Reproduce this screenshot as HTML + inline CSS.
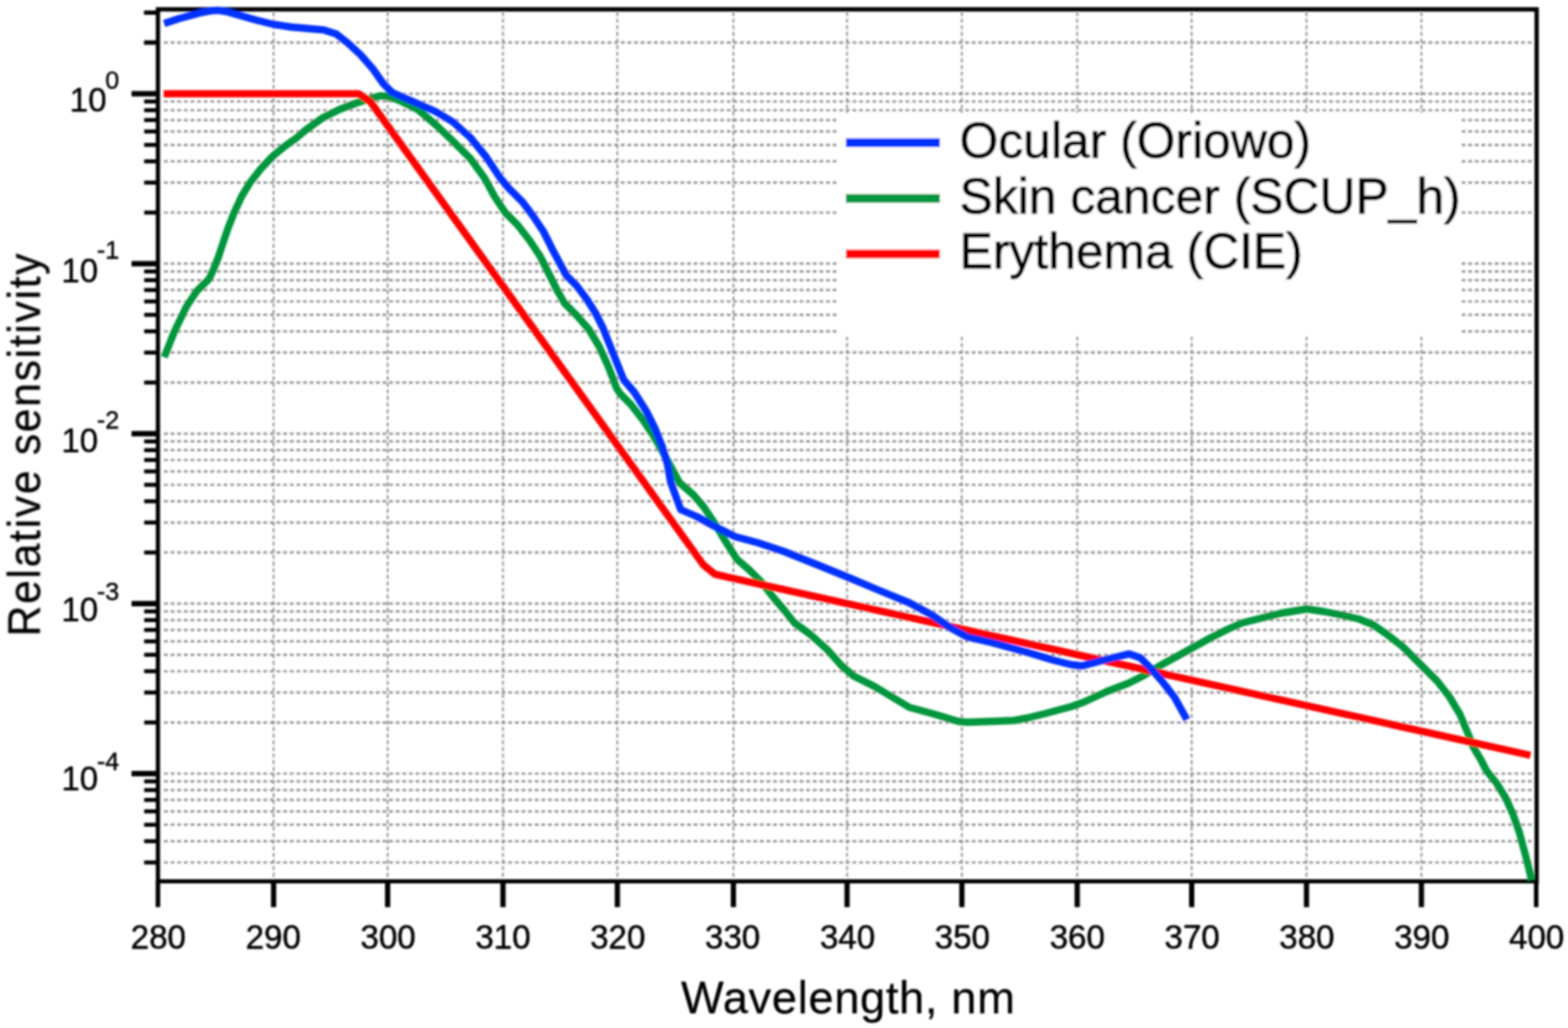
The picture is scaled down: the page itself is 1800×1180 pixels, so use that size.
<!DOCTYPE html>
<html lang="en"><head><meta charset="utf-8"><title>UV action spectra</title>
<style>
html,body{margin:0;padding:0;background:#fff;}
body{width:1800px;height:1180px;overflow:hidden;}
svg{display:block;font-family:"Liberation Sans",Arial,Helvetica,sans-serif;fill:#000;}
text{stroke:#000;stroke-width:0;}
.lab{letter-spacing:0.72px;stroke-width:0.3px;}
.leg{stroke-width:0.9px;}
.g{stroke:#929292;stroke-width:2.7;stroke-dasharray:4.3 3.3;fill:none;}
.gv{stroke:#888888;stroke-width:1.9;stroke-dasharray:4.6 3;fill:none;}
.ax{stroke:#000;fill:none;}
.c{fill:none;stroke-width:8.4;stroke-linejoin:round;stroke-linecap:butt;}
.tl{font-size:38px;stroke-width:0.55px;}
.yl{stroke-width:0.4px;}
.sup{font-size:29px;}
.lab{font-size:52px;}
.ylab{font-size:52px;letter-spacing:2.05px;stroke-width:0.35px;}
.leg{font-size:57.2px;}
</style></head><body>
<svg width="1800" height="1180" viewBox="0 0 1800 1180">
<defs><filter id="b" x="-2%" y="-2%" width="104%" height="104%"><feGaussianBlur stdDeviation="1.05"/></filter></defs>
<rect width="1800" height="1180" fill="#fff"/>
<g filter="url(#b)">
<g class="g">
<line x1="188.3" y1="107.6" x2="1761.0" y2="107.6"/>
<line x1="188.3" y1="48.9" x2="1761.0" y2="48.9"/>
<line x1="188.3" y1="302.7" x2="1761.0" y2="302.7"/>
<line x1="188.3" y1="244.0" x2="1761.0" y2="244.0"/>
<line x1="188.3" y1="209.6" x2="1761.0" y2="209.6"/>
<line x1="188.3" y1="185.2" x2="1761.0" y2="185.2"/>
<line x1="188.3" y1="166.3" x2="1761.0" y2="166.3"/>
<line x1="188.3" y1="150.9" x2="1761.0" y2="150.9"/>
<line x1="188.3" y1="137.8" x2="1761.0" y2="137.8"/>
<line x1="188.3" y1="126.5" x2="1761.0" y2="126.5"/>
<line x1="188.3" y1="116.5" x2="1761.0" y2="116.5"/>
<line x1="188.3" y1="497.8" x2="1761.0" y2="497.8"/>
<line x1="188.3" y1="439.1" x2="1761.0" y2="439.1"/>
<line x1="188.3" y1="404.7" x2="1761.0" y2="404.7"/>
<line x1="188.3" y1="380.3" x2="1761.0" y2="380.3"/>
<line x1="188.3" y1="361.4" x2="1761.0" y2="361.4"/>
<line x1="188.3" y1="346.0" x2="1761.0" y2="346.0"/>
<line x1="188.3" y1="332.9" x2="1761.0" y2="332.9"/>
<line x1="188.3" y1="321.6" x2="1761.0" y2="321.6"/>
<line x1="188.3" y1="311.6" x2="1761.0" y2="311.6"/>
<line x1="188.3" y1="692.9" x2="1761.0" y2="692.9"/>
<line x1="188.3" y1="634.2" x2="1761.0" y2="634.2"/>
<line x1="188.3" y1="599.8" x2="1761.0" y2="599.8"/>
<line x1="188.3" y1="575.4" x2="1761.0" y2="575.4"/>
<line x1="188.3" y1="556.5" x2="1761.0" y2="556.5"/>
<line x1="188.3" y1="541.1" x2="1761.0" y2="541.1"/>
<line x1="188.3" y1="528.0" x2="1761.0" y2="528.0"/>
<line x1="188.3" y1="516.7" x2="1761.0" y2="516.7"/>
<line x1="188.3" y1="506.7" x2="1761.0" y2="506.7"/>
<line x1="188.3" y1="888.0" x2="1761.0" y2="888.0"/>
<line x1="188.3" y1="829.3" x2="1761.0" y2="829.3"/>
<line x1="188.3" y1="794.9" x2="1761.0" y2="794.9"/>
<line x1="188.3" y1="770.5" x2="1761.0" y2="770.5"/>
<line x1="188.3" y1="751.6" x2="1761.0" y2="751.6"/>
<line x1="188.3" y1="736.2" x2="1761.0" y2="736.2"/>
<line x1="188.3" y1="723.1" x2="1761.0" y2="723.1"/>
<line x1="188.3" y1="711.8" x2="1761.0" y2="711.8"/>
<line x1="188.3" y1="701.8" x2="1761.0" y2="701.8"/>
<line x1="188.3" y1="990.0" x2="1761.0" y2="990.0"/>
<line x1="188.3" y1="965.6" x2="1761.0" y2="965.6"/>
<line x1="188.3" y1="946.7" x2="1761.0" y2="946.7"/>
<line x1="188.3" y1="931.3" x2="1761.0" y2="931.3"/>
<line x1="188.3" y1="918.2" x2="1761.0" y2="918.2"/>
<line x1="188.3" y1="906.9" x2="1761.0" y2="906.9"/>
<line x1="188.3" y1="896.9" x2="1761.0" y2="896.9"/>
</g>
<g class="gv">
<line x1="314.1" y1="13.8" x2="314.1" y2="1009.6"/>
<line x1="445.0" y1="13.8" x2="445.0" y2="1009.6"/>
<line x1="577.4" y1="13.8" x2="577.4" y2="1009.6"/>
<line x1="708.7" y1="13.8" x2="708.7" y2="1009.6"/>
<line x1="841.9" y1="13.8" x2="841.9" y2="1009.6"/>
<line x1="972.4" y1="13.8" x2="972.4" y2="1009.6"/>
<line x1="1104.2" y1="13.8" x2="1104.2" y2="1009.6"/>
<line x1="1236.6" y1="13.8" x2="1236.6" y2="1009.6"/>
<line x1="1368.0" y1="13.8" x2="1368.0" y2="1009.6"/>
<line x1="1499.8" y1="13.8" x2="1499.8" y2="1009.6"/>
<line x1="1631.7" y1="13.8" x2="1631.7" y2="1009.6"/>
</g>
<rect x="962" y="130" width="715" height="256" fill="#fff"/>
<g class="ax">
<path stroke-width="4.9" d="M181.3 10.8 H1764.0 V1011.6 H181.3 Z"/>
<line stroke-width="5.2" x1="181.3" y1="1011.6" x2="181.3" y2="1041.3"/>
<line stroke-width="6.0" x1="314.1" y1="1011.6" x2="314.1" y2="1041.3"/>
<line stroke-width="6.0" x1="445.0" y1="1011.6" x2="445.0" y2="1041.3"/>
<line stroke-width="6.0" x1="577.4" y1="1011.6" x2="577.4" y2="1041.3"/>
<line stroke-width="6.0" x1="708.7" y1="1011.6" x2="708.7" y2="1041.3"/>
<line stroke-width="6.0" x1="841.9" y1="1011.6" x2="841.9" y2="1041.3"/>
<line stroke-width="6.0" x1="972.4" y1="1011.6" x2="972.4" y2="1041.3"/>
<line stroke-width="6.0" x1="1104.2" y1="1011.6" x2="1104.2" y2="1041.3"/>
<line stroke-width="6.0" x1="1236.6" y1="1011.6" x2="1236.6" y2="1041.3"/>
<line stroke-width="6.0" x1="1368.0" y1="1011.6" x2="1368.0" y2="1041.3"/>
<line stroke-width="6.0" x1="1499.8" y1="1011.6" x2="1499.8" y2="1041.3"/>
<line stroke-width="6.0" x1="1631.7" y1="1011.6" x2="1631.7" y2="1041.3"/>
<line stroke-width="5.2" x1="1763.5" y1="1011.6" x2="1763.5" y2="1041.3"/>
<line stroke-width="6.2" x1="151" y1="107.6" x2="181.3" y2="107.6"/>
<line stroke-width="4.6" x1="165.5" y1="48.9" x2="181.3" y2="48.9"/>
<line stroke-width="4.6" x1="165.5" y1="14.5" x2="181.3" y2="14.5"/>
<line stroke-width="4.6" x1="165.5" y1="-9.9" x2="181.3" y2="-9.9"/>
<line stroke-width="4.6" x1="165.5" y1="-28.8" x2="181.3" y2="-28.8"/>
<line stroke-width="4.6" x1="165.5" y1="-44.2" x2="181.3" y2="-44.2"/>
<line stroke-width="4.6" x1="165.5" y1="-57.3" x2="181.3" y2="-57.3"/>
<line stroke-width="4.6" x1="165.5" y1="-68.6" x2="181.3" y2="-68.6"/>
<line stroke-width="4.6" x1="165.5" y1="-78.6" x2="181.3" y2="-78.6"/>
<line stroke-width="6.2" x1="151" y1="302.7" x2="181.3" y2="302.7"/>
<line stroke-width="4.6" x1="165.5" y1="244.0" x2="181.3" y2="244.0"/>
<line stroke-width="4.6" x1="165.5" y1="209.6" x2="181.3" y2="209.6"/>
<line stroke-width="4.6" x1="165.5" y1="185.2" x2="181.3" y2="185.2"/>
<line stroke-width="4.6" x1="165.5" y1="166.3" x2="181.3" y2="166.3"/>
<line stroke-width="4.6" x1="165.5" y1="150.9" x2="181.3" y2="150.9"/>
<line stroke-width="4.6" x1="165.5" y1="137.8" x2="181.3" y2="137.8"/>
<line stroke-width="4.6" x1="165.5" y1="126.5" x2="181.3" y2="126.5"/>
<line stroke-width="4.6" x1="165.5" y1="116.5" x2="181.3" y2="116.5"/>
<line stroke-width="6.2" x1="151" y1="497.8" x2="181.3" y2="497.8"/>
<line stroke-width="4.6" x1="165.5" y1="439.1" x2="181.3" y2="439.1"/>
<line stroke-width="4.6" x1="165.5" y1="404.7" x2="181.3" y2="404.7"/>
<line stroke-width="4.6" x1="165.5" y1="380.3" x2="181.3" y2="380.3"/>
<line stroke-width="4.6" x1="165.5" y1="361.4" x2="181.3" y2="361.4"/>
<line stroke-width="4.6" x1="165.5" y1="346.0" x2="181.3" y2="346.0"/>
<line stroke-width="4.6" x1="165.5" y1="332.9" x2="181.3" y2="332.9"/>
<line stroke-width="4.6" x1="165.5" y1="321.6" x2="181.3" y2="321.6"/>
<line stroke-width="4.6" x1="165.5" y1="311.6" x2="181.3" y2="311.6"/>
<line stroke-width="6.2" x1="151" y1="692.9" x2="181.3" y2="692.9"/>
<line stroke-width="4.6" x1="165.5" y1="634.2" x2="181.3" y2="634.2"/>
<line stroke-width="4.6" x1="165.5" y1="599.8" x2="181.3" y2="599.8"/>
<line stroke-width="4.6" x1="165.5" y1="575.4" x2="181.3" y2="575.4"/>
<line stroke-width="4.6" x1="165.5" y1="556.5" x2="181.3" y2="556.5"/>
<line stroke-width="4.6" x1="165.5" y1="541.1" x2="181.3" y2="541.1"/>
<line stroke-width="4.6" x1="165.5" y1="528.0" x2="181.3" y2="528.0"/>
<line stroke-width="4.6" x1="165.5" y1="516.7" x2="181.3" y2="516.7"/>
<line stroke-width="4.6" x1="165.5" y1="506.7" x2="181.3" y2="506.7"/>
<line stroke-width="6.2" x1="151" y1="888.0" x2="181.3" y2="888.0"/>
<line stroke-width="4.6" x1="165.5" y1="829.3" x2="181.3" y2="829.3"/>
<line stroke-width="4.6" x1="165.5" y1="794.9" x2="181.3" y2="794.9"/>
<line stroke-width="4.6" x1="165.5" y1="770.5" x2="181.3" y2="770.5"/>
<line stroke-width="4.6" x1="165.5" y1="751.6" x2="181.3" y2="751.6"/>
<line stroke-width="4.6" x1="165.5" y1="736.2" x2="181.3" y2="736.2"/>
<line stroke-width="4.6" x1="165.5" y1="723.1" x2="181.3" y2="723.1"/>
<line stroke-width="4.6" x1="165.5" y1="711.8" x2="181.3" y2="711.8"/>
<line stroke-width="4.6" x1="165.5" y1="701.8" x2="181.3" y2="701.8"/>
<line stroke-width="4.6" x1="165.5" y1="990.0" x2="181.3" y2="990.0"/>
<line stroke-width="4.6" x1="165.5" y1="965.6" x2="181.3" y2="965.6"/>
<line stroke-width="4.6" x1="165.5" y1="946.7" x2="181.3" y2="946.7"/>
<line stroke-width="4.6" x1="165.5" y1="931.3" x2="181.3" y2="931.3"/>
<line stroke-width="4.6" x1="165.5" y1="918.2" x2="181.3" y2="918.2"/>
<line stroke-width="4.6" x1="165.5" y1="906.9" x2="181.3" y2="906.9"/>
<line stroke-width="4.6" x1="165.5" y1="896.9" x2="181.3" y2="896.9"/>
<line stroke-width="4.6" x1="165.5" y1="48.9" x2="181.3" y2="48.9"/>
<line stroke-width="4.6" x1="165.5" y1="14.5" x2="181.3" y2="14.5"/>
</g>
<clipPath id="cp"><rect x="181.3" y="4.8" width="1582.7" height="1008.0"/></clipPath>
<g clip-path="url(#cp)">
<path class="c" stroke="#00963c" d="M188.5 410.0 L200.0 381.0 L214.0 352.0 L226.0 334.0 L240.0 320.3 L245.1 309.2 L250.5 295.6 L255.9 279.3 L261.4 263.0 L268.8 244.0 L277.6 225.0 L287.1 209.5 L299.3 193.9 L312.9 179.5 L326.4 168.3 L340.0 158.6 L350.0 150.0 L370.0 135.5 L390.0 125.5 L410.0 118.0 L426.0 113.0 L436.0 110.0 L446.0 110.6 L460.0 116.0 L480.0 126.0 L500.0 143.0 L520.0 162.0 L540.0 182.0 L556.0 204.0 L568.0 226.0 L580.0 244.0 L594.0 258.0 L608.0 276.0 L620.0 294.0 L630.0 314.0 L640.0 334.0 L648.0 348.0 L662.0 362.0 L676.0 378.0 L688.0 398.0 L698.0 420.0 L708.0 446.0 L712.0 452.0 L724.0 464.0 L738.0 482.0 L750.0 500.0 L766.0 528.0 L780.0 554.0 L796.0 568.0 L808.0 582.0 L820.0 600.0 L832.0 620.0 L846.0 642.0 L860.0 654.0 L874.0 668.0 L888.0 686.0 L900.0 700.0 L912.0 715.0 L930.0 728.0 L950.0 746.0 L966.0 764.0 L980.0 776.0 L1004.0 788.0 L1024.0 800.0 L1044.0 812.0 L1070.0 819.0 L1100.0 828.0 L1110.0 829.0 L1140.0 828.0 L1164.0 827.0 L1180.0 824.0 L1200.0 819.0 L1230.0 811.0 L1244.0 806.0 L1270.0 794.0 L1296.0 784.0 L1312.0 776.0 L1330.0 765.0 L1350.0 754.0 L1370.0 743.0 L1390.0 732.0 L1410.0 722.0 L1426.0 715.0 L1450.0 709.0 L1470.0 704.0 L1500.0 699.0 L1520.0 702.0 L1540.0 706.0 L1560.0 710.5 L1576.0 717.0 L1592.0 728.0 L1610.0 742.0 L1630.0 762.0 L1650.0 782.0 L1664.0 800.0 L1676.0 820.0 L1686.0 844.0 L1691.0 857.0 L1700.0 872.0 L1706.0 884.0 L1718.0 899.0 L1728.5 916.0 L1737.0 935.0 L1744.0 955.0 L1750.5 979.0 L1755.6 999.0 L1758.0 1010.0"/>
<path class="c" stroke="#ff0000" d="M187.9 107.6 L412.0 107.6 L425.2 116.8 L807.6 648.6 L820.8 659.2 L1756.9 867.0"/>
<path class="c" stroke="#0030ff" d="M188.5 27.0 L205.0 21.5 L220.0 17.5 L231.8 14.3 L241.0 12.6 L250.8 11.8 L259.7 13.3 L270.0 16.2 L294.0 23.0 L314.0 28.0 L334.0 31.0 L356.0 33.0 L372.0 34.4 L386.0 39.0 L400.0 50.0 L414.0 63.0 L428.0 79.0 L440.0 96.0 L450.0 106.0 L466.0 113.0 L482.0 120.0 L500.0 128.0 L520.0 140.0 L540.0 158.0 L558.0 180.0 L574.0 204.0 L584.0 216.0 L600.0 232.0 L612.0 248.0 L624.0 266.0 L634.0 286.0 L642.0 301.0 L650.0 316.0 L662.0 328.0 L674.0 344.0 L684.0 360.0 L692.0 376.0 L700.0 396.0 L708.0 416.0 L716.0 436.0 L728.0 450.0 L742.0 472.0 L752.0 492.0 L760.0 512.0 L766.0 532.0 L770.0 554.0 L781.5 585.0 L800.0 593.0 L820.0 604.0 L844.0 616.0 L870.0 623.0 L900.0 633.0 L920.0 641.0 L940.0 649.0 L972.0 662.0 L1010.0 678.0 L1044.0 692.0 L1070.0 706.0 L1090.0 720.0 L1110.0 731.0 L1140.0 738.0 L1180.0 749.0 L1210.0 758.0 L1230.0 763.0 L1242.0 764.4 L1266.0 758.0 L1296.0 750.6 L1309.0 755.0 L1320.0 766.0 L1334.0 782.0 L1348.0 800.0 L1362.5 826.0"/>
</g>
<line class="c" style="stroke-width:10" stroke="#0030ff" x1="971" y1="163.7" x2="1079" y2="163.7"/>
<line class="c" style="stroke-width:10" stroke="#00963c" x1="971" y1="227.8" x2="1079" y2="227.8"/>
<line class="c" style="stroke-width:10" stroke="#ff0000" x1="971" y1="291.4" x2="1079" y2="291.4"/>
<g>
<text class="tl" text-anchor="middle" x="181.8" y="1088.8">280</text>
<text class="tl" text-anchor="middle" x="313.6" y="1088.8">290</text>
<text class="tl" text-anchor="middle" x="445.5" y="1088.8">300</text>
<text class="tl" text-anchor="middle" x="577.4" y="1088.8">310</text>
<text class="tl" text-anchor="middle" x="709.2" y="1088.8">320</text>
<text class="tl" text-anchor="middle" x="841.0" y="1088.8">330</text>
<text class="tl" text-anchor="middle" x="972.9" y="1088.8">340</text>
<text class="tl" text-anchor="middle" x="1104.8" y="1088.8">350</text>
<text class="tl" text-anchor="middle" x="1236.6" y="1088.8">360</text>
<text class="tl" text-anchor="middle" x="1368.5" y="1088.8">370</text>
<text class="tl" text-anchor="middle" x="1500.3" y="1088.8">380</text>
<text class="tl" text-anchor="middle" x="1632.2" y="1088.8">390</text>
<text class="tl" text-anchor="middle" x="1764.0" y="1088.8">400</text>
<text class="tl yl" text-anchor="end" x="137" y="128.0">10<tspan class="sup" dx="-1.5" dy="-26.2">0</tspan></text>
<text class="tl yl" text-anchor="end" x="137" y="323.7">10<tspan class="sup" dx="-1.5" dy="-26.8">-1</tspan></text>
<text class="tl yl" text-anchor="end" x="137" y="518.5">10<tspan class="sup" dx="-1.5" dy="-26.5">-2</tspan></text>
<text class="tl yl" text-anchor="end" x="137" y="712.9">10<tspan class="sup" dx="-1.5" dy="-23.8">-3</tspan></text>
<text class="tl yl" text-anchor="end" x="137" y="907.0">10<tspan class="sup" dx="-1.5" dy="-22.8">-4</tspan></text>
<text class="lab" text-anchor="middle" x="973.8" y="1163.3">Wavelength, nm</text>
<text class="lab ylab" text-anchor="middle" transform="translate(45.7 509.8) rotate(-90) scale(0.9423 1)">Relative sensitivity</text>
<text class="leg" x="1101.5" y="180.9">Ocular (Oriowo)</text>
<text class="leg" x="1101.5" y="244.8">Skin cancer (SCUP_h)</text>
<text class="leg" x="1101.5" y="308">Erythema (CIE)</text>
</g>
</g>
</svg></body></html>
